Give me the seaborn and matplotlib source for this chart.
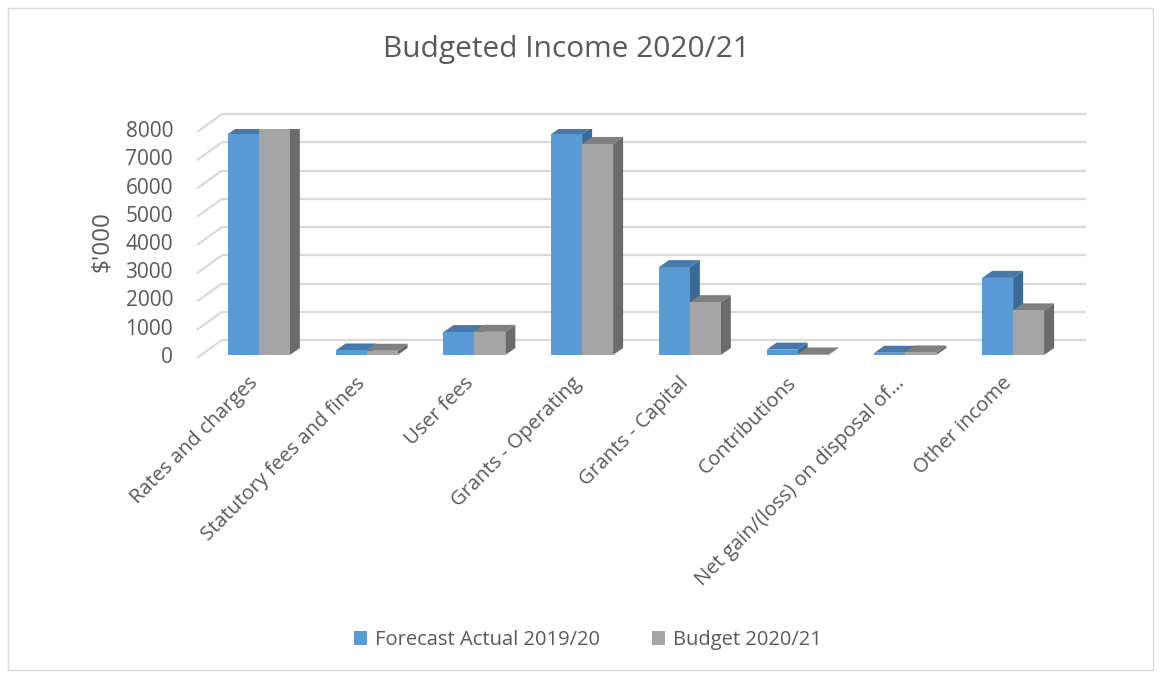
import numpy as np
import pandas as pd
import matplotlib
matplotlib.use("Agg")
import matplotlib.pyplot as plt
import matplotlib.transforms as mtrans
from matplotlib.patches import Polygon, Rectangle
import seaborn as sns

# ================= DATA =================
categories = ["Rates and charges", "Statutory fees and fines", "User fees",
              "Grants - Operating", "Grants - Capital", "Contributions",
              "Net gain/(loss) on disposal of\u2026", "Other income"]
forecast_1920 = [7820, 160, 810, 7820, 3110, 190, 80, 2730]
budget_2021 = [7990, 150, 820, 7470, 1870, 20, 90, 1580]
series_names = ["Forecast Actual 2019/20", "Budget 2020/21"]
y_ticks = [0, 1000, 2000, 3000, 4000, 5000, 6000, 7000, 8000]

# colours: front, top, side
COLS = {
    series_names[0]: ("#5B9BD5", "#4678A8", "#3C6A96"),
    series_names[1]: ("#A5A5A5", "#7F7F7F", "#6B6B6B"),
}
TXT = "#595959"
GRID = "#D9D9D9"

df = pd.DataFrame({
    "Category": categories * 2,
    "Series": [series_names[0]] * len(categories) + [series_names[1]] * len(categories),
    "Value": forecast_1920 + budget_2021,
})

sns.set_style("white")
plt.rcParams["font.family"] = ["Open Sans", "DejaVu Sans"]

W, H = 1161, 675
fig = plt.figure(figsize=(W / 100, H / 100), dpi=100)

# axes placed in pixel terms (front plane of the bars)
ax_l, ax_r, ax_b, ax_t = 205, 1067, 355, 129
ax = fig.add_axes([ax_l / W, 1 - ax_b / H, (ax_r - ax_l) / W, (ax_b - ax_t) / H])

sns.barplot(data=df, x="Category", y="Value", hue="Series", order=categories,
            hue_order=series_names, palette=[COLS[s][0] for s in series_names],
            width=0.575, saturation=1, ax=ax, zorder=3, linewidth=0)

ax.set_xlim(-0.5, len(categories) - 0.5)
ax.set_ylim(0, 8000)
px_x = (ax_r - ax_l) / len(categories)
px_y = (ax_b - ax_t) / 8000.0

def dx(p):
    return p / px_x

def dy(p):
    return p / px_y

# 3D faces on each bar
depth_x, depth_y = dx(10), dy(7)
for container, name in zip(ax.containers, series_names):
    _, top_c, side_c = COLS[name]
    for bar in container:
        x0, w, h = bar.get_x(), bar.get_width(), bar.get_height()
        side = Polygon([(x0 + w, 0), (x0 + w + depth_x, depth_y),
                        (x0 + w + depth_x, h + depth_y), (x0 + w, h)],
                       closed=True, fc=side_c, ec="none", zorder=2)
        top = Polygon([(x0, h), (x0 + depth_x, h + depth_y),
                       (x0 + w + depth_x, h + depth_y), (x0 + w, h)],
                      closed=True, fc=top_c, ec="none", zorder=2.5)
        ax.add_patch(side)
        ax.add_patch(top)

# back wall gridlines + side wall diagonals
xmin, xmax = ax.get_xlim()
front_x = xmin - dx(8)
back_x = xmin + dx(17)
right_x = xmax + dx(19)
for v in y_ticks:
    yf = v - dy(3)
    yb = v + dy(15)
    ax.plot([front_x, back_x], [yf, yb], color=GRID, lw=1.6, zorder=0, clip_on=False,
            solid_capstyle="butt")
    ax.plot([back_x, right_x], [yb, yb], color=GRID, lw=1.6, zorder=0, clip_on=False,
            solid_capstyle="butt")

ax.set_yticks(y_ticks)
ax.set_yticklabels([str(v) for v in y_ticks], fontsize=15, color=TXT)
ax.tick_params(axis="y", length=0, pad=23)
ax.tick_params(axis="x", length=0, pad=13)
ax.set_xticks(range(len(categories)))
ax.set_xticklabels(categories, rotation=45, ha="right", rotation_mode="anchor",
                   fontsize=14.5, color=TXT)
shift = mtrans.ScaledTranslation(-0.11, 0, fig.dpi_scale_trans)
for lab in ax.get_xticklabels():
    lab.set_transform(lab.get_transform() + shift)
ax.set_xlabel("")
ax.set_ylabel("$'000", fontsize=17.5, color=TXT, labelpad=8)
for s in ax.spines.values():
    s.set_visible(False)
ax.grid(False)

# legend at the bottom
handles, labels = ax.get_legend_handles_labels()
if ax.legend_ is not None:
    ax.legend_.remove()
fig.legend(handles, labels, loc="center", bbox_to_anchor=(588 / W, 1 - 640 / H), ncol=2,
           frameon=False, fontsize=14.5, labelcolor=TXT, handlelength=0.65,
           handleheight=0.65, handletextpad=0.4, columnspacing=2.6)

fig.text(566 / W, 1 - 50 / H, "Budgeted Income 2020/21", ha="center", va="center",
         fontsize=21.5, color=TXT)

# chart border
fig.patches.append(Rectangle((8 / W, 1 - 670 / H), (1153 - 8) / W, (670 - 8) / H,
                             transform=fig.transFigure, fill=False, ec=GRID, lw=1))

fig.savefig("out.png", dpi=100)
